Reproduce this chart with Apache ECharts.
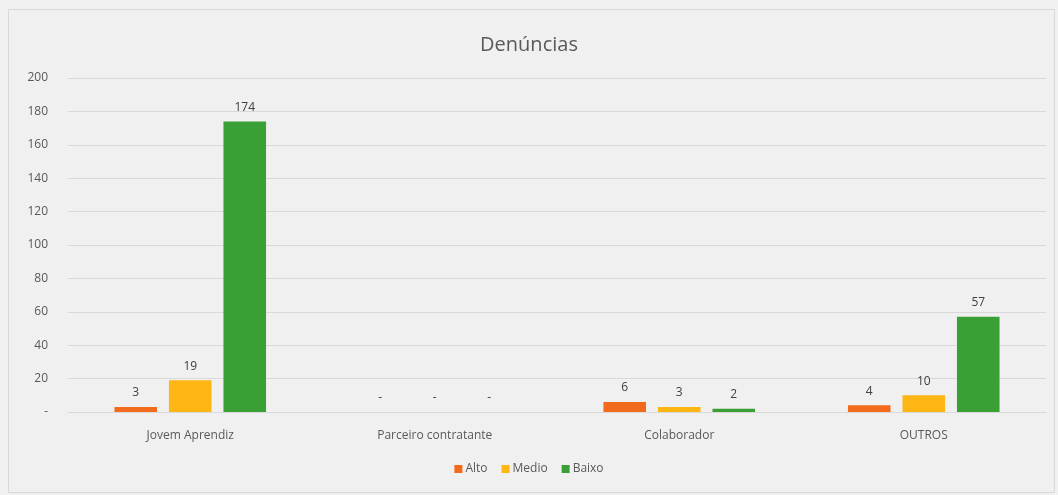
<!DOCTYPE html>
<html>
<head>
<meta charset="utf-8">
<script src="https://cdn.jsdelivr.net/npm/echarts@6/dist/echarts.min.js"></script>
<style>
  html, body { margin: 0; padding: 0; background: #f0f0f0; }
  #chart { width: 1058px; height: 495px; }
</style>
</head>
<body>
<div id="chart"></div>
<script>
// dados do gráfico
var categories = ['Jovem Aprendiz', 'Parceiro contratante', 'Colaborador', 'OUTROS'];
var seriesNames = ['Alto', 'Medio', 'Baixo'];
var alto = [3, 0, 6, 4];
var medio = [19, 0, 3, 10];
var baixo = [174, 0, 2, 57];

var colors = ['#f26a1b', '#fdb614', '#3a9f35'];
var fontFamily = '"Open Sans", "Noto Sans", sans-serif';

// zero aparece como "-" (formato contábil)
function fmt(v) { return v === 0 ? '-' : String(v); }

function makeSeries(name, data, color) {
    return {
        name: name,
        type: 'bar',
        data: data,
        barGap: '28%',
        barCategoryGap: '38%',
        itemStyle: { color: color },
        label: {
            show: true,
            position: 'top',
            distance: 8,
            color: '#404040',
            fontSize: 12,
            fontFamily: fontFamily,
            formatter: function (p) { return fmt(p.value); }
        }
    };
}

var myChart = echarts.init(document.getElementById('chart'));
myChart.setOption({
    backgroundColor: '#f0f0f0',
    animation: false,
    title: {
        text: 'Denúncias',
        left: 'center',
        top: 30,
        textStyle: { color: '#595959', fontSize: 20, fontWeight: 'normal', fontFamily: fontFamily }
    },
    legend: {
        data: seriesNames,
        bottom: 15,
        left: 'center',
        itemWidth: 8,
        itemHeight: 8,
        itemGap: 14,
        icon: 'rect',
        textStyle: { color: '#595959', fontSize: 12, fontFamily: fontFamily, padding: [0, 0, 0, -2] }
    },
    graphic: [{
        type: 'rect',
        shape: { x: 8.5, y: 9.5, width: 1046, height: 483 },
        style: { fill: 'none', stroke: '#d9d9d9', lineWidth: 1 },
        silent: true
    }],
    grid: { left: 68, right: 12, top: 78, bottom: 83 },
    xAxis: {
        type: 'category',
        data: categories,
        axisLine: { lineStyle: { color: '#d9d9d9' } },
        axisTick: { show: false },
        axisLabel: { color: '#595959', fontSize: 12, fontFamily: fontFamily, margin: 18 }
    },
    yAxis: {
        type: 'value',
        min: 0,
        max: 200,
        interval: 20,
        axisLine: { show: false },
        axisTick: { show: false },
        splitLine: { lineStyle: { color: '#d9d9d9' } },
        axisLabel: {
            color: '#595959', fontSize: 12, fontFamily: fontFamily, margin: 20,
            formatter: function (v) { return fmt(v); }
        }
    },
    series: [
        makeSeries(seriesNames[0], alto, colors[0]),
        makeSeries(seriesNames[1], medio, colors[1]),
        makeSeries(seriesNames[2], baixo, colors[2])
    ]
});
</script>
</body>
</html>
